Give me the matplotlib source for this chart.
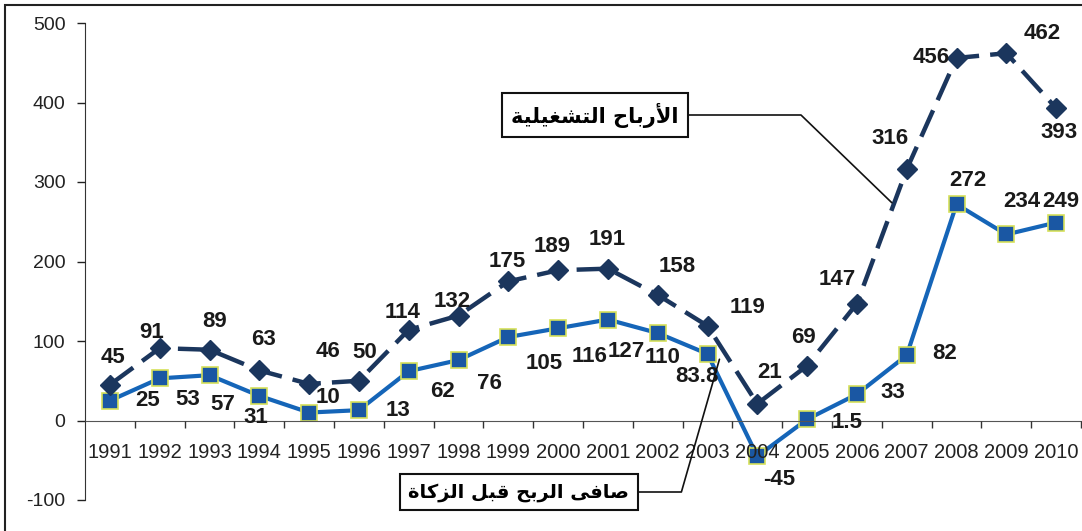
import matplotlib
matplotlib.use("Agg")
import matplotlib.pyplot as plt
from matplotlib.patches import Rectangle

years = [str(y) for y in range(1991, 2011)]
operating = [45, 91, 89, 63, 46, 50, 114, 132, 175, 189, 191, 158, 119, 21, 69, 147, 316, 456, 462, 393]
net = [25, 53, 57, 31, 10, 13, 62, 76, 105, 116, 127, 110, 83.8, -45, 1.5, 33, 82, 272, 234, 249]
net_text = ["25", "53", "57", "31", "10", "13", "62", "76", "105", "116", "127", "110", "83.8", "-45",
            "1.5", "33", "82", "272", "234", "249"]

label_operating = "الأرباح التشغيلية"
label_net = "صافى الربح قبل الزكاة"

# label offsets in pixels
op_off = [(3, 27), (-8, 16), (5, 28), (4, 31), (19, 32), (6, 28), (-6, 17), (-6, 14), (-1, 20), (-6, 24),
          (-1, 29), (19, 28), (40, 18), (12, 31), (-4, 28), (-20, 24), (-17, 31), (-25, 0), (36, 20), (3, -24)]
net_off = [(38, 0), (28, -21), (13, -29), (-3, -22), (19, 15), (39, 0), (34, -20), (31, -23), (36, -26), (31, -28),
           (18, -32), (5, -24), (-11, -23), (22, -23), (40, -3), (36, 2), (38, 2), (11, 24), (16, 33), (5, 21)]

# minimal arabic shaping (presentation forms), since matplotlib does not shape
FORMS = {
    'ا': ('\ufe8d', '\ufe8e', None, None),
    'أ': ('\ufe83', '\ufe84', None, None),
    'ب': ('\ufe8f', '\ufe90', '\ufe91', '\ufe92'),
    'ة': ('\ufe93', '\ufe94', None, None),
    'ت': ('\ufe95', '\ufe96', '\ufe97', '\ufe98'),
    'ح': ('\ufea1', '\ufea2', '\ufea3', '\ufea4'),
    'ج': ('\ufe9d', '\ufe9e', '\ufe9f', '\ufea0'),
    'ر': ('\ufead', '\ufeae', None, None),
    'ز': ('\ufeaf', '\ufeb0', None, None),
    'ش': ('\ufeb5', '\ufeb6', '\ufeb7', '\ufeb8'),
    'ص': ('\ufeb9', '\ufeba', '\ufebb', '\ufebc'),
    'غ': ('\ufecd', '\ufece', '\ufecf', '\ufed0'),
    'ف': ('\ufed1', '\ufed2', '\ufed3', '\ufed4'),
    'ق': ('\ufed5', '\ufed6', '\ufed7', '\ufed8'),
    'ك': ('\ufed9', '\ufeda', '\ufedb', '\ufedc'),
    'ل': ('\ufedd', '\ufede', '\ufedf', '\ufee0'),
    'ى': ('\ufeef', '\ufef0', None, None),
    'ي': ('\ufef1', '\ufef2', '\ufef3', '\ufef4'),
}
LAM_ALEF = {'ا': ('\ufefb', '\ufefc'), 'أ': ('\ufef7', '\ufef8')}


def shape(text):
    out = []
    i = 0
    while i < len(text):
        c = text[i]
        prev = text[i - 1] if i > 0 else ''
        joins_prev = prev in FORMS and FORMS[prev][2] is not None
        nxt = text[i + 1] if i + 1 < len(text) else ''
        if c == 'ل' and nxt in LAM_ALEF:
            out.append(LAM_ALEF[nxt][1 if joins_prev else 0])
            i += 2
            continue
        if c not in FORMS:
            out.append(c)
            i += 1
            continue
        iso, fin, ini, med = FORMS[c]
        joins_next = ini is not None and nxt in FORMS
        if joins_prev and joins_next:
            out.append(med)
        elif joins_prev:
            out.append(fin)
        elif joins_next:
            out.append(ini)
        else:
            out.append(iso)
        i += 1
    return ''.join(reversed(out))


plt.rcParams['font.family'] = ['Liberation Sans', 'DejaVu Sans']
plt.rcParams['axes.unicode_minus'] = False

fig = plt.figure(figsize=(10.82, 5.31), dpi=100)
ax = fig.add_axes([85 / 1082, 31 / 531, 996 / 1082, 477 / 531])
fig.patches.append(Rectangle((5 / 1082, -0.01), 1.1, 1 - 5 / 531 + 0.01, transform=fig.transFigure,
                             fill=False, edgecolor='#222222', linewidth=1.5))
ax.set_axisbelow(False)

x = list(range(len(years)))
ax.plot(x, net, color='#1565b8', linewidth=3, marker='s', markersize=11.5,
        markerfacecolor='#1a57a3', markeredgecolor='#d6e05a', markeredgewidth=1.2, zorder=2)
ax.plot(x, operating, color='#1b365d', linewidth=3.2, dashes=(6.5, 2.5), marker='D', markersize=10.5,
        markerfacecolor='#1b365d', markeredgecolor='#1b365d', zorder=4)

for i in x:
    ax.annotate(str(operating[i]), (i, operating[i]), xytext=op_off[i], textcoords='offset pixels',
                ha='center', va='center', fontsize=16, fontweight='bold', color='#1a1a1a', zorder=6)
    ax.annotate(net_text[i], (i, net[i]), xytext=net_off[i], textcoords='offset pixels',
                ha='center', va='center', fontsize=16, fontweight='bold', color='#1a1a1a', zorder=6)

ax.set_xlim(-0.5, 19.5)
ax.set_ylim(-100, 500)
ax.set_yticks([-100, 0, 100, 200, 300, 400, 500])
ax.tick_params(axis='y', direction='out', length=6, width=1, labelsize=14, colors='#222222', pad=8)

ax.set_xticks([k + 0.5 for k in range(20)])
ax.set_xticklabels([])
ax.tick_params(axis='x', which='major', direction='out', length=5, width=1, color='#333333')
ax.set_xticks(x, minor=True)
ax.set_xticklabels(years, minor=True)
ax.tick_params(axis='x', which='minor', length=0, labelsize=14.5, pad=16, labelcolor='#222222')

for s in ['top', 'right']:
    ax.spines[s].set_visible(False)
ax.spines['bottom'].set_position(('data', 0))
ax.spines['bottom'].set_color('#555555')
ax.spines['left'].set_color('#333333')
ax.set_facecolor('none')

box = dict(boxstyle='square,pad=0.45', facecolor='white', edgecolor='#111111', linewidth=1.5)
ax.annotate(shape(label_operating), xy=(15.7, 274), xytext=(595, 531 - 115), textcoords='figure pixels',
            ha='center', va='center', fontsize=15, fontweight='bold', family='DejaVu Sans', bbox=box,
            arrowprops=dict(arrowstyle='-', color='#111111', lw=1.2, shrinkA=0, shrinkB=0,
                            connectionstyle='angle,angleA=0,angleB=136,rad=0'), zorder=7)
ax.annotate(shape(label_net), xy=(12.24, 77), xytext=(519, 531 - 492), textcoords='figure pixels',
            ha='center', va='center', fontsize=14, fontweight='bold', family='DejaVu Sans', bbox=box,
            arrowprops=dict(arrowstyle='-', color='#111111', lw=1.2, shrinkA=0, shrinkB=0,
                            connectionstyle='angle,angleA=0,angleB=74,rad=0'), zorder=7)

fig.savefig('out.png', dpi=100, facecolor='white')
